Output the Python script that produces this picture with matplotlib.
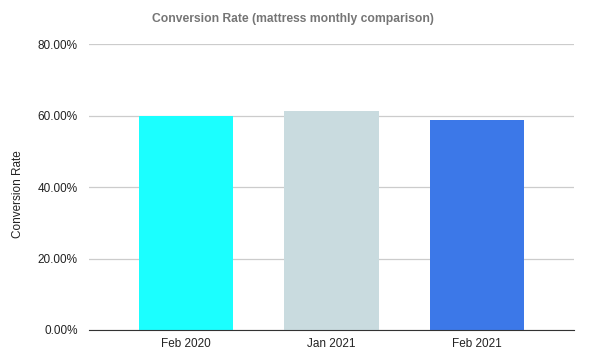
import numpy as np
import matplotlib
matplotlib.use('Agg')
import matplotlib.pyplot as plt
from matplotlib.ticker import FuncFormatter

months = ["Feb 2020", "Jan 2021", "Feb 2021"]
rates = [59.9, 61.3, 58.8]
colors = ["#1BFFFF", "#C9DBDF", "#3C78E8"]

plt.rcParams['font.family'] = ['Liberation Sans', 'DejaVu Sans']

fig = plt.figure(figsize=(5.89, 3.62), dpi=100)
ax = fig.add_axes([0.151, 0.0884, 0.8235, 0.7896])

index = np.arange(len(months))
ax.bar(index, rates, 0.648, color=colors, zorder=3)

ax.set_ylim(0, 80)
ax.set_xlim(-0.67, 2.67)
ax.set_yticks([0, 20, 40, 60, 80])
ax.yaxis.set_major_formatter(FuncFormatter(lambda v, p: "%.2f%%" % v))
ax.set_xticks(index)
ax.set_xticklabels(months)
ax.grid(axis='y', color='#cccccc', linewidth=0.9, zorder=0)
for s in ['top', 'right', 'left']:
  ax.spines[s].set_visible(False)
ax.spines['bottom'].set_color('#333333')
ax.spines['bottom'].set_zorder(4)
ax.tick_params(axis='both', length=0, labelsize=8.5, colors='#222222')
ax.tick_params(axis='y', pad=8)
ax.tick_params(axis='x', pad=6)
ax.set_ylabel("Conversion Rate", fontsize=8.5, color='#222222', va='center')
ax.yaxis.set_label_coords(-0.146, 0.476)

fig.text(0.497, 0.947, "Conversion Rate (mattress monthly comparison)", ha='center', va='center',
         fontsize=8.7, fontweight='bold', color='#757575')

plt.savefig('out.png', dpi=100)
